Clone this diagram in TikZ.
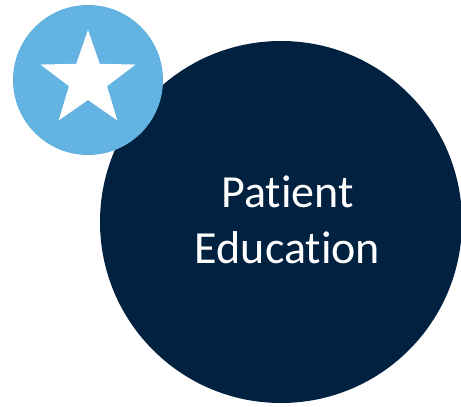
\documentclass[tikz,border=0pt]{standalone}
\usepackage{fontspec}
\setmainfont{Carlito}[RawFeature=-liga]
\usetikzlibrary{shapes.geometric}

\definecolor{navy}{RGB}{1,33,64}
\definecolor{sky}{RGB}{99,180,227}

\begin{document}
\begin{tikzpicture}[x=1pt,y=-1pt,inner sep=0pt]
      % Styles
      \tikzset{bigdisc/.style={circle,fill=navy,minimum size=362pt},
               badge/.style={circle,fill=sky,minimum size=150pt},
               starmark/.style={star,star points=5,star point ratio=2.5,fill=white,minimum size=100pt},
               caption/.style={text=white,align=center,font=\fontsize{46}{56}\selectfont}}

      % Picture frame
      \useasboundingbox (0,0) rectangle (461,407);

      % Main topic disc
      \node[bigdisc] (topic) at (281,222) {};

      % Badge with star on the top left
      \node[badge] (badge) at (88,80) {};
      \node[starmark] (star) at (badge.center) {};

      % Label (base = last line)
      \node[caption,anchor=base] (label) at (287.5,263) {Patient\\Education};
    \end{tikzpicture}
\end{document}
